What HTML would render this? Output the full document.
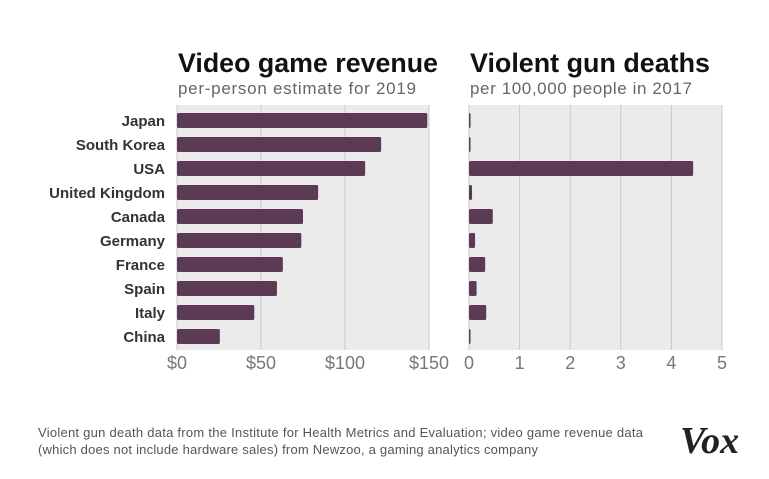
<!DOCTYPE html>
<html><head><meta charset="utf-8"><style>
body{margin:0;background:#fff;}
svg{display:block;font-family:"Liberation Sans",sans-serif;}
</style></head><body>
<svg id="c" width="769" height="479">
<text x="178" y="72" font-size="27" font-weight="bold" fill="#111" textLength="260" lengthAdjust="spacingAndGlyphs">Video game revenue</text>
<text x="178" y="94" font-size="17" fill="#666" textLength="238">per-person estimate for 2019</text>
<text x="470" y="72" font-size="27" font-weight="bold" fill="#111" textLength="240" lengthAdjust="spacingAndGlyphs">Violent gun deaths</text>
<text x="470" y="94" font-size="17" fill="#666" textLength="222">per 100,000 people in 2017</text>
<text x="38" y="437" font-size="13" fill="#555" textLength="605">Violent gun death data from the Institute for Health Metrics and Evaluation; video game revenue data</text>
<text x="38" y="454" font-size="13" fill="#555" textLength="500">(which does not include hardware sales) from Newzoo, a gaming analytics company</text>
<text x="680" y="453" font-size="38" font-weight="bold" font-style="italic" fill="#222" font-family="Liberation Serif, serif">Vox</text>
</svg>
<script>
const countries=["Japan","South Korea","USA","United Kingdom","Canada","Germany","France","Spain","Italy","China"];
const revenue=[149,121.5,112,84,75,74,63,59.5,46,25.5];
const deaths=[0.03,0.02,4.43,0.06,0.47,0.12,0.32,0.15,0.34,0.02];
const revTicks=[0,50,100,150];
const revTickLabels=["$0","$50","$100","$150"];
const deathTicks=[0,1,2,3,4,5];
const deathTickLabels=["0","1","2","3","4","5"];
const svgEl=document.getElementById('c');
const NS='http://www.w3.org/2000/svg';
function mk(t,a){const e=document.createElementNS(NS,t);for(const k in a)e.setAttribute(k,a[k]);svgEl.appendChild(e);return e;}
const plotTop=105,plotBottom=350,rowH=24,barH=15,firstY=113;
const yPos=i=>firstY+i*rowH;
function panel(name,x0,x1,max,vals,ticks,labels){
  const sx=v=>x0+(x1-x0)*v/max;
  const bg=mk('rect',{x:x0,y:plotTop,width:x1-x0,height:plotBottom-plotTop,fill:'#ebebeb'});
  
  
  ticks.forEach((t,i)=>{
    const l=mk('line',{x1:sx(t),x2:sx(t),y1:plotTop,y2:plotBottom,stroke:'#c9c9c9','stroke-width':1});
    
    
    const tx=mk('text',{x:sx(t),y:369,'font-size':18,fill:'#777','text-anchor':'middle'});
    tx.textContent=labels[i];
    
    
  });
  vals.forEach((v,i)=>{
    const r=mk('rect',{x:x0,y:yPos(i),width:Math.max(sx(v)-x0,1.5),height:barH,fill:'#5c3a55',rx:1.5});
    
    
  });
}
panel('revenue',177,429,150,revenue,revTicks,revTickLabels);
panel('deaths',469,722,5,deaths,deathTicks,deathTickLabels);
countries.forEach((c,i)=>{
  const t=mk('text',{x:165,y:yPos(i)+13,'font-size':15,'font-weight':'bold',fill:'#333','text-anchor':'end'});
  t.textContent=c;
  
  
});
</script>
</body></html>
